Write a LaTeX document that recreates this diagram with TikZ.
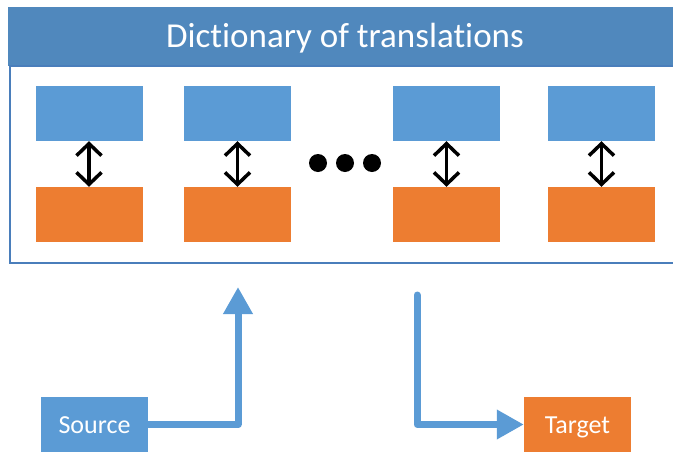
\documentclass[tikz,border=0pt]{standalone}
\usepackage{fontspec}
\setmainfont{Carlito}[Ligatures=NoCommon]
\usepackage{xcolor}
\usepackage{tikz}
\usetikzlibrary{arrows.meta}

\definecolor{hdrblue}{RGB}{80,136,189}
\definecolor{frameblue}{RGB}{74,126,187}
\definecolor{boxblue}{RGB}{91,155,213}
\definecolor{boxorange}{RGB}{237,125,49}

\begin{document}
\begin{tikzpicture}[x=1pt, y=-1pt,
  entry/.style={minimum width=107pt, minimum height=55pt, inner sep=0pt},
  keybox/.style={entry, fill=boxblue},
  valbox/.style={entry, fill=boxorange},
  endbox/.style={entry, text=white, text height=17pt, text depth=0pt, font=\fontsize{26}{30}\selectfont},
  pairlink/.style={{Straight Barb[length=12pt,width=25pt]}-{Straight Barb[length=12pt,width=25pt]}, line width=3.5pt},
  flow/.style={-{Triangle[length=27pt,width=28pt]}, draw=boxblue, line width=7pt, line join=round}]
\useasboundingbox (0,0) rectangle (673,453);
\clip (0,0) rectangle (673,453);
% dictionary frame, runs past the right edge
\fill[hdrblue] (8,7) rectangle (700,66);
\draw[frameblue, line width=2pt] (10,66) rectangle (700,263);
\node[anchor=base, text=white, font=\fontsize{35}{40}\selectfont] (title) at (345,47) {Dictionary of translations};
% word pairs, key on top and its translation below
\foreach \i/\x in {1/89, 2/237.5, 3/446.5, 4/601.5} {
  \node[keybox] (key\i) at (\x,113.5) {};
  \node[valbox] (val\i) at (\x,214.5) {};
  \draw[pairlink] (key\i) -- (val\i);
}
% gap in the middle of the list
\foreach \x in {318, 345, 372}
  \fill (\x,163) circle[radius=9pt];
% lookup: source word goes in, target word comes out
\node[endbox, fill=boxblue] (src) at (94.5,424.5) {Source};
\node[endbox, fill=boxorange] (tgt) at (577.5,424.5) {Target};
\coordinate (lookin) at (238,287);
\coordinate (lookout) at (417,295);
\draw[flow] (src.east) -| (lookin);
\draw[flow, line cap=round] (lookout) |- (tgt.west);
\end{tikzpicture}
\end{document}
